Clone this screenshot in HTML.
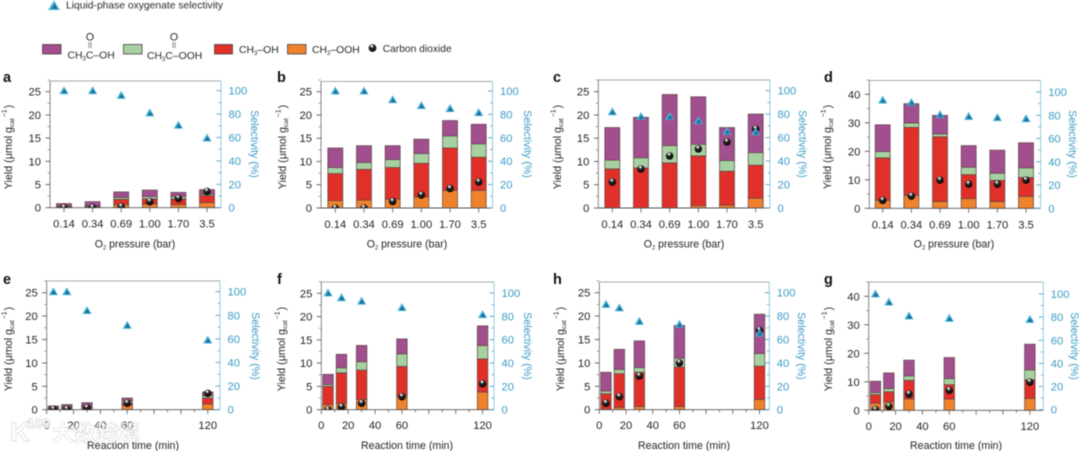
<!DOCTYPE html>
<html lang="en">
<head>
<meta charset="utf-8">
<title>Oxygenate yield and selectivity panels</title>
<style>
html,body{margin:0;padding:0;background:#fff;}
body{width:1080px;height:451px;overflow:hidden;}
svg{display:block;filter:blur(0.45px);font-family:"Liberation Sans","Noto Sans CJK SC",sans-serif;}
</style>
</head>
<body>
<svg id="figure" width="1080" height="451" viewBox="0 0 1080 451" xmlns="http://www.w3.org/2000/svg">
  <defs id="defs">
    <radialGradient id="ballGrad" cx="0.42" cy="0.26" r="0.8">
      <stop offset="0" stop-color="#ffffff"/>
      <stop offset="0.14" stop-color="#e0e0e0"/>
      <stop offset="0.3" stop-color="#2a2a2a"/>
      <stop offset="1" stop-color="#000000"/>
    </radialGradient>
  </defs>
  <g id="legend" font-size="10.4" fill="#2a2a2a">
    <g>
      <polygon points="54,0.5 48,10 60,10" fill="#4db4d8"/>
      <polygon points="54.6,3.5 51.6,9 57.6,9" fill="#1b6f98"/>
      <text x="66" y="8.5" textLength="157" lengthAdjust="spacingAndGlyphs">Liquid-phase oxygenate selectivity</text>
    </g>
    <g>
      <rect x="42.5" y="44.5" width="18.5" height="9.5" fill="#a24f90" stroke="#4a4040" stroke-width="0.8"/>
      <text x="90" y="40.5" text-anchor="middle" font-size="10.8">O</text>
      <line x1="89" y1="42" x2="89" y2="48" stroke="#444" stroke-width="0.6"/>
      <line x1="91" y1="42" x2="91" y2="48" stroke="#444" stroke-width="0.6"/>
      <text x="67.5" y="58.5">CH<tspan font-size="6" dy="2">3</tspan><tspan dy="-2">C–OH</tspan></text>
    </g>
    <g>
      <rect x="123.5" y="44.5" width="18.5" height="9.5" fill="#a6d1a0" stroke="#4a4040" stroke-width="0.8"/>
      <text x="174" y="40.5" text-anchor="middle" font-size="10.8">O</text>
      <line x1="173" y1="42" x2="173" y2="48" stroke="#444" stroke-width="0.6"/>
      <line x1="175" y1="42" x2="175" y2="48" stroke="#444" stroke-width="0.6"/>
      <text x="147" y="59">CH<tspan font-size="6" dy="2">3</tspan><tspan dy="-2">C–OOH</tspan></text>
    </g>
    <g>
      <rect x="214.5" y="44.5" width="18" height="9.5" fill="#e1302a" stroke="#4a4040" stroke-width="0.8"/>
      <text x="239" y="53">CH<tspan font-size="6" dy="2">3</tspan><tspan dy="-2">–OH</tspan></text>
    </g>
    <g>
      <rect x="287.5" y="44.5" width="18.5" height="9.5" fill="#f0822c" stroke="#4a4040" stroke-width="0.8"/>
      <text x="312" y="53">CH<tspan font-size="6" dy="2">3</tspan><tspan dy="-2">–OOH</tspan></text>
    </g>
    <g>
      <circle cx="372.5" cy="48" r="3.9" fill="url(#ballGrad)"/>
      <text x="382.7" y="52" textLength="69" lengthAdjust="spacingAndGlyphs">Carbon dioxide</text>
    </g>
  </g>
  <g id="panels"></g>
  <g>
    <text x="10" y="441" font-size="27" font-weight="bold" fill="#ffffff" fill-opacity="0.75" stroke="#c4c4c4" stroke-width="0.8" paint-order="stroke" font-family="'Liberation Sans',sans-serif">K</text>
    <text x="27" y="428" font-size="14" font-weight="bold" fill="#ffffff" fill-opacity="0.75" stroke="#c4c4c4" stroke-width="0.8" paint-order="stroke" font-family="'Liberation Sans',sans-serif">100</text>
    <text x="52" y="441" font-size="22" font-weight="bold" fill="#ffffff" fill-opacity="0.55" stroke="#c4c4c4" stroke-opacity="0.8" stroke-width="0.7" paint-order="stroke" font-family="'Noto Sans CJK SC',sans-serif">大数跨境</text>
  </g>
</svg>
<script>
// ---- shared categories and tick labels ----
const pressureLabels = ['0.14','0.34','0.69','1.00','1.70','3.5'];
const timeMinutes = [5,15,30,60,120];
const timeTickLabels = [0,20,40,60,120];
const timeTicks = [0,10,20,30,40,50,60,70,80,90,100,110,120];
const selectivityTicks = [0,20,40,60,80,100];
const yieldTicks25 = [0,5,10,15,20,25];
const yieldTicks40 = [0,10,20,30,40];

// ---- panel a ----
const aOrange = [0.1,0.1,0.7,0.8,0.7,1.1];
const aRed = [0.1,0.2,1.1,1.1,1.2,1.5];
const aGreen = [0.1,0.1,0.4,0.5,0.5,0.3];
const aPurple = [0.6,0.9,1.2,1.4,0.9,1.0];
const aCO2 = [0,0,0.2,1.3,2.0,3.5];
const aSelectivity = [100,100,96,81,70.5,59.5];
// ---- panel b ----
const bOrange = [1.6,1.7,1.9,2.4,3.8,3.8];
const bRed = [5.8,6.6,6.8,7.2,9.1,7.1];
const bGreen = [1.3,1.5,1.7,2.1,2.6,2.9];
const bPurple = [4.2,3.6,3.0,3.1,3.3,4.2];
const bCO2 = [0,0,1.4,2.8,4.2,5.6];
const bSelectivity = [100,100,92.5,87.5,85,81.5];
// ---- panel c ----
const cOrange = [0,0,0,0.5,0.6,2.1];
const cRed = [8.4,8.6,9.7,10.7,7.3,7.1];
const cGreen = [1.9,2.2,3.7,2.5,2.3,2.7];
const cPurple = [7,8.7,11,10.2,7.1,8.3];
const cCO2 = [5.6,8.4,11.2,12.7,14.2,17];
const cSelectivity = [82,78,78,74.5,65.5,65];
// ---- panel d ----
const dOrange = [2.8,4.5,2.4,3.4,2.4,4.2];
const dRed = [14.9,23.9,22.7,8.4,7.4,6.6];
const dGreen = [2.2,1.5,1,2.6,2.5,3.4];
const dPurple = [9.4,6.8,6.5,7.6,8.1,8.8];
const dCO2 = [2.8,4.3,9.9,8.5,8.5,9.9];
const dSelectivity = [93,91,80.5,79,78,77];
// ---- panel e ----
const eOrange = [0.1,0.2,0.2,1,1.2];
const eRed = [0.2,0.2,0.4,0.4,1.3];
const eGreen = [0.1,0.2,0.2,0.5,0.5];
const ePurple = [0.4,0.5,0.7,0.6,0.8];
const eCO2 = [0.1,0.1,0.4,1.4,3.5];
const eSelectivity = [100,100,84,71.5,59];
// ---- panel f ----
const fOrange = [1.1,1.3,2.2,2.9,3.8];
const fRed = [3.9,6.6,6.3,6.4,7.1];
const fGreen = [0.4,1.1,1.8,2.7,2.9];
const fPurple = [2.2,2.9,3.5,3.2,4.2];
const fCO2 = [0,0.6,1.4,2.8,5.6];
const fSelectivity = [100,96,93,87.5,81.5];
// ---- panel h ----
const hOrange = [0,0.5,0.7,0.7,2.2];
const hRed = [3.4,7.2,7.3,8.4,7.1];
const hGreen = [0.6,0.9,1,1.9,2.7];
const hPurple = [4,4.3,5.7,7,8.4];
const hCO2 = [1.4,2.8,7.2,10,17];
const hSelectivity = [90,87,75.5,73,65.5];
// ---- panel g ----
const gOrange = [2.5,3,4,4,4.2];
const gRed = [3,3.5,6.5,5,6.5];
const gGreen = [0.7,1.1,1.6,2.1,3.5];
const gPurple = [4,5.5,5.5,7.4,9];
const gCO2 = [0.2,1.4,5.7,7,9.9];
const gSelectivity = [100,93,81,79,78];

const NS = 'http://www.w3.org/2000/svg';
const BLUE = '#3a9bc4';
const INK = '#242424';
const TICK_FONT = 11.2;
const TITLE_FONT = 10.7;

function make(parent, tag, attrs, text) {
  const el = document.createElementNS(NS, tag);
  for (const k in attrs) el.setAttribute(k, attrs[k]);
  if (text !== undefined) el.textContent = text;
  parent.appendChild(el);
  return el;
}

function drawPanel(p) {
  const root = document.getElementById('panels');
  const g = make(root, 'g', {});
  
  

  // axis functions
  const yScale = v => p.y0 - v * p.yPx;
  const rScale = v => p.r0 - v * p.rPx;
  const xScale = p.time
    ? v => p.left + v * p.xPx
    : i => p.first + i * p.step;
  const right = p.left + p.width;
  const positions = p.time ? timeMinutes.map(xScale) : pressureLabels.map((_, i) => xScale(i));

  // clip so points sitting on zero are cut by the x axis
  const clip = make(document.getElementById('defs'), 'clipPath', {id: 'clip-' + p.letter});
  make(clip, 'rect', {x: p.left, y: p.top, width: p.width, height: p.y0 - p.top});

  const letter = make(g, 'text', {x: p.letterX, y: p.letterY, 'font-size': 14.5, 'font-weight': 'bold', fill: '#111'}, p.letter);
  
  

  // bars
  const series = [
    {values: p.orange, color: '#f0822c', name: 'bar-ch3ooh'},
    {values: p.red, color: '#e1302a', name: 'bar-ch3oh'},
    {values: p.green, color: '#a6d1a0', name: 'bar-peracetic-acid'},
    {values: p.purple, color: '#a24f90', name: 'bar-acetic-acid'}
  ];
  positions.forEach((x, i) => {
    let base = 0;
    series.forEach(s => {
      const top = base + s.values[i];
      if (s.values[i] > 0) {
        const bar = make(g, 'rect', {
          x: x - p.barW / 2, y: yScale(top), width: p.barW, height: yScale(base) - yScale(top),
          fill: s.color, stroke: '#5a4444', 'stroke-width': 0.7
        });
        
        
      }
      base = top;
    });
  });

  // frame
  const frame = make(g, 'g', {});
  
  
  make(frame, 'line', {x1: p.left, y1: p.top, x2: right, y2: p.top, stroke: '#a8a8a8', 'stroke-width': 0.9});
  make(frame, 'line', {x1: p.left, y1: p.top, x2: p.left, y2: p.y0, stroke: '#777', 'stroke-width': 0.9});
  make(frame, 'line', {x1: p.left, y1: p.y0, x2: right, y2: p.y0, stroke: '#555', 'stroke-width': 0.9});
  make(frame, 'line', {x1: right, y1: p.top, x2: right, y2: p.y0, stroke: '#97cbdf', 'stroke-width': 1});

  // left axis
  const leftAxis = make(g, 'g', {});
  
  
  const half = (p.yTicks[1] - p.yTicks[0]) / 2;
  p.yTicks.forEach(v => {
    make(leftAxis, 'line', {x1: p.left - 4.5, y1: yScale(v), x2: p.left, y2: yScale(v), stroke: '#444', 'stroke-width': 0.8});
    make(leftAxis, 'line', {x1: p.left - 2.5, y1: yScale(v + half), x2: p.left, y2: yScale(v + half), stroke: '#777', 'stroke-width': 0.7});
    make(leftAxis, 'text', {x: p.left - 9, y: yScale(v) + 4, 'text-anchor': 'end', 'font-size': TICK_FONT, fill: INK}, v);
  });

  // right axis
  const rightAxis = make(g, 'g', {});
  
  
  selectivityTicks.forEach(v => {
    make(rightAxis, 'line', {x1: right - 4.5, y1: rScale(v), x2: right, y2: rScale(v), stroke: BLUE, 'stroke-width': 0.8});
    if (v < 100) make(rightAxis, 'line', {x1: right - 2.5, y1: rScale(v + 10), x2: right, y2: rScale(v + 10), stroke: BLUE, 'stroke-width': 0.7});
    make(rightAxis, 'text', {x: right + 7.5, y: rScale(v) + 4, 'font-size': TICK_FONT, fill: BLUE}, v);
  });

  // bottom axis
  const bottom = make(g, 'g', {});
  
  
  if (p.time) {
    timeTicks.forEach(v => {
      const len = v % 20 === 0 ? 4.5 : 2.5;
      make(bottom, 'line', {x1: xScale(v), y1: p.y0, x2: xScale(v), y2: p.y0 + len, stroke: '#555', 'stroke-width': 0.8});
    });
    timeTickLabels.forEach(v => {
      make(bottom, 'text', {x: xScale(v), y: p.y0 + 19.5, 'text-anchor': 'middle', 'font-size': TICK_FONT, fill: INK}, v);
    });
  } else {
    pressureLabels.forEach((label, i) => {
      make(bottom, 'line', {x1: xScale(i), y1: p.y0, x2: xScale(i), y2: p.y0 + 4.5, stroke: '#555', 'stroke-width': 0.8});
      make(bottom, 'text', {x: xScale(i), y: p.y0 + 20, 'text-anchor': 'middle', 'font-size': TICK_FONT, fill: INK}, label);
    });
  }

  // titles
  const titleWidth = p.time ? 92 : 80.5;
  const xTitle = make(g, 'text', {
    x: p.xTitleX - titleWidth / 2, y: p.xTitleY, 'font-size': TITLE_FONT, fill: INK,
    textLength: titleWidth, lengthAdjust: 'spacingAndGlyphs'
  });
  
  
  if (p.time) {
    xTitle.textContent = 'Reaction time (min)';
  } else {
    make(xTitle, 'tspan', {}, 'O');
    make(xTitle, 'tspan', {'font-size': 6, dy: 2}, '2');
    make(xTitle, 'tspan', {dy: -2}, ' pressure (bar)');
  }

  const yTitle = make(g, 'text', {
    transform: 'translate(' + p.yTitleX + ',' + p.titleY + ') rotate(-90)',
    'text-anchor': 'middle', 'font-size': TITLE_FONT, fill: INK
  });
  
  
  make(yTitle, 'tspan', {}, 'Yield (μmol g');
  make(yTitle, 'tspan', {'font-size': 6.5, dy: 2}, 'cat');
  make(yTitle, 'tspan', {'font-size': 7, dy: -7.5, dx: 1}, '−1');
  make(yTitle, 'tspan', {dy: 5.5, dx: 1}, ')');

  const rTitle = make(g, 'text', {
    transform: 'translate(' + p.rTitleX + ',' + (p.titleY - 3) + ') rotate(90)',
    'text-anchor': 'middle', 'font-size': TITLE_FONT, fill: BLUE
  }, 'Selectivity (%)');
  
  

  // carbon dioxide points
  positions.forEach((x, i) => {
    const ball = make(g, 'circle', {cx: x, cy: yScale(p.co2[i]), r: 3.8, fill: 'url(#ballGrad)', 'clip-path': 'url(#clip-' + p.letter + ')'});
    
    
  });

  // selectivity triangles
  positions.forEach((x, i) => {
    const y = rScale(p.selectivity[i]);
    const tri = make(g, 'g', {});
    
    
    make(tri, 'polygon', {points: [x, y - 4.5, x - 4.6, y + 3.4, x + 4.6, y + 3.4].join(' '), fill: '#45b0d6'});
    make(tri, 'polygon', {points: [x + 0.4, y - 1.8, x - 2.2, y + 2.6, x + 3, y + 2.6].join(' '), fill: '#1b6f98'});
  });
}

drawPanel({letter:'a', letterX:3, letterY:82, left:50, width:171, top:81, y0:207.7, yPx:4.64, r0:207.7, rPx:1.17, yTicks:yieldTicks25,
  first:64, step:28.6, barW:15, yTitleX:12, rTitleX:251, titleY:147, xTitleX:135, xTitleY:247.5,
  orange:aOrange, red:aRed, green:aGreen, purple:aPurple, co2:aCO2, selectivity:aSelectivity});
drawPanel({letter:'b', letterX:277, letterY:82, left:321, width:171.5, top:81.5, y0:208, yPx:4.652, r0:208, rPx:1.17, yTicks:yieldTicks25,
  first:335.3, step:28.68, barW:15, yTitleX:286, rTitleX:524, titleY:147, xTitleX:407, xTitleY:247.5,
  orange:bOrange, red:bRed, green:bGreen, purple:bPurple, co2:bCO2, selectivity:bSelectivity});
drawPanel({letter:'c', letterX:553, letterY:82, left:598.3, width:171.7, top:80, y0:208, yPx:4.652, r0:208, rPx:1.173, yTicks:yieldTicks25,
  first:612.3, step:28.68, barW:15, yTitleX:561, rTitleX:799, titleY:147, xTitleX:684, xTitleY:247.5,
  orange:cOrange, red:cRed, green:cGreen, purple:cPurple, co2:cCO2, selectivity:cSelectivity});
drawPanel({letter:'d', letterX:824, letterY:82, left:869.3, width:171.4, top:80.5, y0:208.3, yPx:2.85, r0:208.3, rPx:1.163, yTicks:yieldTicks40,
  first:882.7, step:28.66, barW:15, yTitleX:831, rTitleX:1069, titleY:147, xTitleX:954, xTitleY:247.5,
  orange:dOrange, red:dRed, green:dGreen, purple:dPurple, co2:dCO2, selectivity:dSelectivity});
drawPanel({letter:'e', letterX:3, letterY:284, time:true, left:46.7, width:173.3, top:281, y0:409.7, yPx:4.68, r0:409.7, rPx:1.18, yTicks:yieldTicks25,
  xPx:1.342, barW:10.5, yTitleX:12, rTitleX:252, titleY:349, xTitleX:133, xTitleY:449,
  orange:eOrange, red:eRed, green:eGreen, purple:ePurple, co2:eCO2, selectivity:eSelectivity});
drawPanel({letter:'f', letterX:277, letterY:284, time:true, left:321.3, width:172.7, top:282, y0:409.7, yPx:4.656, r0:409.7, rPx:1.167, yTicks:yieldTicks25,
  xPx:1.344, barW:10.5, yTitleX:285, rTitleX:524, titleY:349, xTitleX:407, xTitleY:449,
  orange:fOrange, red:fRed, green:fGreen, purple:fPurple, co2:fCO2, selectivity:fSelectivity});
drawPanel({letter:'h', letterX:553, letterY:284, time:true, left:599.3, width:170, top:282, y0:409.7, yPx:4.68, r0:409.7, rPx:1.17, yTicks:yieldTicks25,
  xPx:1.335, barW:10.5, yTitleX:564, rTitleX:798, titleY:349, xTitleX:684, xTitleY:449,
  orange:hOrange, red:hRed, green:hGreen, purple:hPurple, co2:hCO2, selectivity:hSelectivity});
drawPanel({letter:'g', letterX:824, letterY:284, time:true, left:868.7, width:174.6, top:282, y0:410.3, yPx:2.85, r0:409.7, rPx:1.157, yTicks:yieldTicks40,
  xPx:1.343, barW:10.5, yTitleX:832, rTitleX:1071, titleY:349, xTitleX:956, xTitleY:449,
  orange:gOrange, red:gRed, green:gGreen, purple:gPurple, co2:gCO2, selectivity:gSelectivity});
</script>
</body>
</html>
